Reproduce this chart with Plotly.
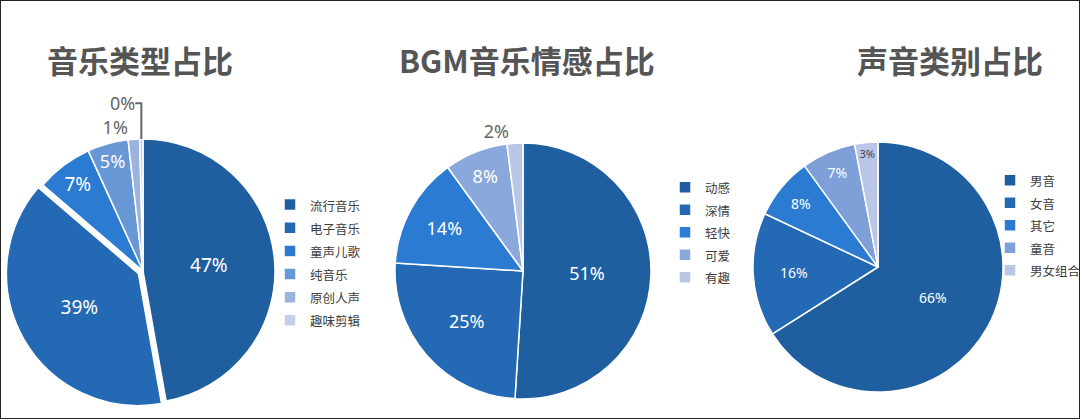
import plotly.graph_objects as go

# 音乐类型占比
music_types = ["流行音乐", "电子音乐", "童声儿歌", "纯音乐", "原创人声", "趣味剪辑"]
music_share = [47.2, 39.1, 6.9, 5.0, 1.4, 0.4]

# BGM音乐情感占比
bgm_moods = ["动感", "深情", "轻快", "可爱", "有趣"]
bgm_share = [51, 25, 14, 8, 2]

# 声音类别占比
voice_types = ["男音", "女音", "其它", "童音", "男女组合"]
voice_share = [66, 16, 8, 7, 3]

titles = ["音乐类型占比", "BGM音乐情感占比", "声音类别占比"]

c1 = ["#1F5FA0", "#2469B3", "#2A7BD1", "#6897D6", "#9CB3E0", "#C6CFEA"]
c2 = ["#1F5FA0", "#2469B3", "#2A7BD1", "#8AA8DC", "#BAC6E6"]
c3 = ["#1F5FA0", "#2469B3", "#2A7BD1", "#7E9FD8", "#BAC6E6"]

W, H = 1080, 419
num_font = "Noto Sans, Open Sans, sans-serif"
cjk_font = "Noto Sans CJK SC, sans-serif"


def dom(cx, cy, half):
    # pixel centre/half-size -> paper domain
    return dict(x=[(cx - half) / W, (cx + half) / W],
                y=[(H - cy - half) / H, (H - cy + half) / H])


def small(names):
    # legend rows are spaced by the legend font size, glyphs drawn smaller
    return ["<span style='font-size:12.5px'>%s</span>" % n for n in names]


fig = go.Figure()

fig.add_trace(go.Pie(
    labels=small(music_types), values=music_share, sort=False, direction="clockwise",
    marker=dict(colors=c1, line=dict(color="white", width=1.5)),
    pull=[0, 0.04, 0, 0, 0, 0],
    texttemplate="%{percent:.0%}",
    textposition=["inside", "inside", "inside", "inside", "outside", "outside"],
    insidetextorientation="horizontal",
    insidetextfont=dict(color="white", size=19, family=num_font),
    outsidetextfont=dict(color="#666666", size=18, family=num_font),
    domain=dom(143, 271, 132 * 1.04),
    legend="legend", hoverinfo="label+percent",
))

fig.add_trace(go.Pie(
    labels=small(bgm_moods), values=bgm_share, sort=False, direction="clockwise",
    marker=dict(colors=c2, line=dict(color="white", width=1.5)),
    texttemplate="%{percent:.0%}",
    textposition=["inside", "inside", "inside", "inside", "outside"],
    insidetextorientation="horizontal",
    insidetextfont=dict(color="white", size=18, family=num_font),
    outsidetextfont=dict(color="#666666", size=18, family=num_font),
    domain=dom(523, 271, 128),
    legend="legend2", hoverinfo="label+percent",
))

fig.add_trace(go.Pie(
    labels=small(voice_types), values=voice_share, sort=False, direction="clockwise",
    marker=dict(colors=c3, line=dict(color="white", width=1.5)),
    texttemplate="%{percent:.0%}",
    textposition="inside",
    insidetextorientation="horizontal",
    insidetextfont=dict(color=["white", "white", "white", "white", "#444444"],
                        size=14, family=num_font),
    domain=dom(878, 267, 125),
    legend="legend3", hoverinfo="label+percent",
))

for t, x in zip(titles, [140, 527, 950]):
    fig.add_annotation(text="<b>%s</b>" % t, x=x / W, y=1 - 59 / H, xref="paper", yref="paper",
                       xanchor="center", yanchor="middle", showarrow=False,
                       font=dict(family=cjk_font, size=31, color="#555555"))

leg = dict(bgcolor="rgba(0,0,0,0)", yanchor="top", xanchor="left", itemclick=False)

fig.update_layout(
    width=W, height=H,
    margin=dict(l=0, r=0, t=0, b=0, autoexpand=False),
    paper_bgcolor="white",
    legend=dict(leg, x=270 / W, y=1 - 188 / H,
                font=dict(family=cjk_font, size=15.5, color="#404040")),
    legend2=dict(leg, x=665 / W, y=1 - 171 / H,
                 font=dict(family=cjk_font, size=15, color="#404040")),
    legend3=dict(leg, x=990 / W, y=1 - 164 / H,
                 font=dict(family=cjk_font, size=15, color="#404040")),
    shapes=[dict(type="rect", xref="paper", yref="paper", x0=0, y0=0, x1=1, y1=1,
                 line=dict(color="#222222", width=2))],
)

fig.write_html("out.html", config={"displayModeBar": False},
               post_script="document.body.style.margin='0px';")
